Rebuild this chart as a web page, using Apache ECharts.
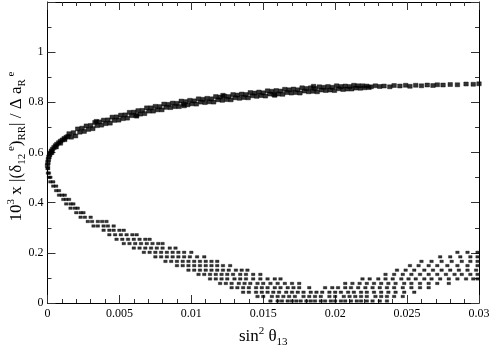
<!DOCTYPE html>
<html>
<head>
<meta charset="utf-8">
<script src="https://cdn.jsdelivr.net/npm/echarts@6/dist/echarts.min.js"></script>
<style>html,body{margin:0;padding:0;background:#fff;}#c{width:491px;height:345px;}</style>
</head>
<body>
<div id="c"></div>
<script>
// Lower band: points lie on discrete rows of y; each row lists its x values.
var lowerRowY = [0.008, 0.026, 0.043, 0.061, 0.078, 0.096, 0.114, 0.131, 0.149, 0.166, 0.184, 0.202, 0.219, 0.237, 0.254, 0.272, 0.290, 0.307, 0.325, 0.342, 0.360, 0.378, 0.395, 0.413, 0.430, 0.448, 0.466, 0.483, 0.501, 0.518, 0.536];
var lowerRowX = [
  [0.0155, 0.0160, 0.0163, 0.0167, 0.0170, 0.0173, 0.0176, 0.0180, 0.0183, 0.0186, 0.0190, 0.0193, 0.0197, 0.0200, 0.0204, 0.0207, 0.0211, 0.0215, 0.0218, 0.0222, 0.0226, 0.0231, 0.0236],
  [0.0146, 0.0150, 0.0156, 0.0160, 0.0164, 0.0168, 0.0172, 0.0178, 0.0182, 0.0186, 0.0190, 0.0196, 0.0200, 0.0206, 0.0210, 0.0214, 0.0218, 0.0222, 0.0228, 0.0232, 0.0236, 0.0241, 0.0247],
  [0.0136, 0.0140, 0.0145, 0.0149, 0.0153, 0.0157, 0.0161, 0.0166, 0.0170, 0.0174, 0.0178, 0.0183, 0.0187, 0.0191, 0.0196, 0.0200, 0.0204, 0.0209, 0.0213, 0.0218, 0.0222, 0.0227, 0.0232, 0.0237, 0.0242, 0.0248, 0.0255],
  [0.0128, 0.0132, 0.0136, 0.0140, 0.0145, 0.0149, 0.0153, 0.0158, 0.0162, 0.0167, 0.0171, 0.0175, 0.0182, 0.0193, 0.0198, 0.0202, 0.0207, 0.0211, 0.0216, 0.0221, 0.0226, 0.0231, 0.0236, 0.0241, 0.0247, 0.0253, 0.0259, 0.0265],
  [0.0120, 0.0124, 0.0128, 0.0133, 0.0137, 0.0141, 0.0146, 0.0150, 0.0155, 0.0160, 0.0165, 0.0170, 0.0175, 0.0207, 0.0212, 0.0217, 0.0222, 0.0227, 0.0232, 0.0237, 0.0242, 0.0248, 0.0253, 0.0259, 0.0265, 0.0271, 0.0279],
  [0.0113, 0.0117, 0.0121, 0.0125, 0.0130, 0.0134, 0.0138, 0.0143, 0.0148, 0.0153, 0.0158, 0.0162, 0.0219, 0.0224, 0.0230, 0.0235, 0.0240, 0.0246, 0.0251, 0.0256, 0.0262, 0.0267, 0.0273, 0.0279, 0.0285, 0.0291, 0.0296, 0.0299],
  [0.0105, 0.0109, 0.0113, 0.0117, 0.0121, 0.0125, 0.0129, 0.0134, 0.0138, 0.0143, 0.0148, 0.0235, 0.0241, 0.0247, 0.0253, 0.0259, 0.0265, 0.0271, 0.0277, 0.0283, 0.0288, 0.0294, 0.0299],
  [0.0098, 0.0102, 0.0106, 0.0110, 0.0114, 0.0118, 0.0122, 0.0126, 0.0131, 0.0135, 0.0139, 0.0243, 0.0249, 0.0255, 0.0262, 0.0268, 0.0274, 0.0280, 0.0286, 0.0292, 0.0298],
  [0.0090, 0.0094, 0.0098, 0.0102, 0.0106, 0.0110, 0.0114, 0.0118, 0.0122, 0.0127, 0.0252, 0.0258, 0.0265, 0.0271, 0.0278, 0.0285, 0.0292, 0.0299],
  [0.0082, 0.0086, 0.0090, 0.0094, 0.0098, 0.0102, 0.0106, 0.0110, 0.0114, 0.0118, 0.0260, 0.0267, 0.0274, 0.0281, 0.0288, 0.0294, 0.0299],
  [0.0075, 0.0079, 0.0083, 0.0087, 0.0091, 0.0095, 0.0099, 0.0104, 0.0109, 0.0273, 0.0280, 0.0287, 0.0294, 0.0299],
  [0.0067, 0.0071, 0.0075, 0.0079, 0.0083, 0.0087, 0.0091, 0.0095, 0.0100, 0.0285, 0.0292, 0.0299],
  [0.0060, 0.0064, 0.0068, 0.0072, 0.0076, 0.0080, 0.0085, 0.0089],
  [0.0053, 0.0057, 0.0061, 0.0065, 0.0069, 0.0073, 0.0077, 0.0080],
  [0.0048, 0.0052, 0.0056, 0.0060, 0.0064, 0.0068, 0.0071],
  [0.0043, 0.0047, 0.0051, 0.0055, 0.0059, 0.0062],
  [0.0039, 0.0043, 0.0046, 0.0050, 0.0053],
  [0.0032, 0.0035, 0.0039, 0.0042, 0.0046],
  [0.0028, 0.0031, 0.0035, 0.0038, 0.0041],
  [0.0023, 0.0026, 0.0030],
  [0.0020, 0.0023, 0.0025],
  [0.0016, 0.0019, 0.0021],
  [0.0013, 0.0016, 0.0018],
  [0.0011, 0.0013, 0.0015],
  [0.0008, 0.0010, 0.0012],
  [0.0006, 0.0008],
  [0.0004, 0.0006],
  [0.0002, 0.0004],
  [0.0001, 0.0002],
  [0.00003, 0.0001],
  [0.0, 0.00005]
];

// Upper branch: [x, y] points read along the thick upper band.
var upperPoints = [
  [0.0000, 0.548], [0.00003, 0.560], [0.00006, 0.572], [0.0001, 0.582], [0.00015, 0.591], [0.0002, 0.598],
  [0.00027, 0.606], [0.00035, 0.613], [0.00045, 0.620], [0.00055, 0.627], [0.00065, 0.633], [0.00078, 0.639],
  [0.0009, 0.645], [0.00103, 0.650], [0.00116, 0.656], [0.0013, 0.661], [0.00142, 0.664],
  [0.0003, 0.600], [0.0006, 0.622], [0.0009, 0.637], [0.0012, 0.651],
  [0.0015, 0.675], [0.00165, 0.661], [0.0018, 0.679], [0.00195, 0.666], [0.0021, 0.694], [0.00225, 0.681],
  [0.0024, 0.697], [0.00255, 0.684], [0.0027, 0.706], [0.00285, 0.692], [0.0030, 0.708], [0.00315, 0.695],
  [0.0033, 0.720], [0.00345, 0.707], [0.0036, 0.722], [0.00375, 0.709], [0.0039, 0.729], [0.00405, 0.715],
  [0.0042, 0.730], [0.00435, 0.717], [0.0045, 0.741], [0.00465, 0.728], [0.0048, 0.742], [0.00495, 0.729],
  [0.0051, 0.749], [0.00525, 0.735], [0.0054, 0.750], [0.00555, 0.737], [0.0057, 0.760], [0.00585, 0.747],
  [0.0060, 0.761], [0.00615, 0.748], [0.0063, 0.767], [0.00645, 0.753], [0.0066, 0.768], [0.00675, 0.755],
  [0.0069, 0.778], [0.00705, 0.765], [0.0072, 0.778], [0.00735, 0.765], [0.0075, 0.784], [0.00765, 0.770],
  [0.0078, 0.783], [0.00795, 0.770], [0.0081, 0.793], [0.00825, 0.780], [0.0084, 0.792], [0.00855, 0.779],
  [0.0087, 0.797], [0.00885, 0.783], [0.0090, 0.796], [0.00915, 0.783], [0.0093, 0.805], [0.00945, 0.792],
  [0.0096, 0.803], [0.00975, 0.790], [0.0099, 0.808], [0.01005, 0.794], [0.0102, 0.806], [0.01035, 0.793],
  [0.0105, 0.814], [0.01065, 0.801], [0.0108, 0.812], [0.01095, 0.799], [0.0111, 0.816], [0.01125, 0.802],
  [0.0114, 0.814], [0.01155, 0.801], [0.0117, 0.823], [0.01185, 0.810], [0.0120, 0.821], [0.01215, 0.808],
  [0.0123, 0.825], [0.01245, 0.811], [0.0126, 0.823], [0.01275, 0.810], [0.0129, 0.831], [0.01305, 0.818],
  [0.0132, 0.829], [0.01335, 0.816], [0.0135, 0.833], [0.01365, 0.819], [0.0138, 0.831], [0.01395, 0.818],
  [0.0141, 0.839], [0.01425, 0.826], [0.0144, 0.837], [0.01455, 0.824], [0.0147, 0.841], [0.01485, 0.827],
  [0.0150, 0.838], [0.01515, 0.825], [0.0153, 0.846], [0.01545, 0.833], [0.0156, 0.844], [0.01575, 0.831],
  [0.0159, 0.847], [0.01605, 0.833], [0.0162, 0.845], [0.01635, 0.832], [0.0165, 0.852], [0.01665, 0.839],
  [0.0168, 0.850], [0.01695, 0.837], [0.0171, 0.853], [0.01725, 0.839], [0.0174, 0.850], [0.01755, 0.837],
  [0.0177, 0.858], [0.01785, 0.845], [0.0180, 0.855], [0.01815, 0.842], [0.0183, 0.858], [0.01845, 0.844],
  [0.0186, 0.855], [0.01875, 0.842], [0.0189, 0.862], [0.01905, 0.849], [0.0192, 0.860], [0.01935, 0.847],
  [0.0195, 0.863], [0.01965, 0.849], [0.0198, 0.860], [0.01995, 0.847], [0.0201, 0.866], [0.02025, 0.854],
  [0.0204, 0.863], [0.02055, 0.851], [0.0207, 0.865], [0.02085, 0.853], [0.0210, 0.863], [0.02115, 0.853],
  [0.0213, 0.868], [0.02145, 0.857], [0.0216, 0.866], [0.02175, 0.856], [0.0219, 0.866], [0.02205, 0.858],
  [0.0222, 0.865], [0.02235, 0.859],
  [0.0034, 0.724], [0.0062, 0.745], [0.0095, 0.786], [0.0122, 0.828], [0.0158, 0.828], [0.0185, 0.864],
  [0.0225, 0.862], [0.0228, 0.866], [0.0231, 0.863], [0.0234, 0.865], [0.0238, 0.862], [0.0241, 0.867],
  [0.0245, 0.865], [0.0249, 0.868], [0.0252, 0.864], [0.0256, 0.868], [0.0260, 0.866], [0.0264, 0.869],
  [0.0268, 0.867], [0.0271, 0.870], [0.0275, 0.869], [0.0280, 0.871], [0.0285, 0.870], [0.0291, 0.873],
  [0.0296, 0.872], [0.0300, 0.874]
];

var xTickValues = [0, 0.005, 0.01, 0.015, 0.02, 0.025, 0.03];
var xTickLabels = ['0', '0.005', '0.01', '0.015', '0.02', '0.025', '0.03'];
var yTickValues = [0, 0.2, 0.4, 0.6, 0.8, 1.0, 1.2];
var yTickLabels = ['0', '0.2', '0.4', '0.6', '0.8', '1', ''];

var lowerPoints = [];
for (var i = 0; i < lowerRowY.length; i++) {
  for (var j = 0; j < lowerRowX[i].length; j++) lowerPoints.push([lowerRowX[i][j], lowerRowY[i]]);
}

function labelFor(vals, labels) {
  return function (v) {
    for (var i = 0; i < vals.length; i++) if (Math.abs(v - vals[i]) < 1e-9) return labels[i];
    return '';
  };
}

var FONT = 'Liberation Serif';
var lineCol = '#000';
var tickStyle = { color: '#333', width: 1 };
var richStyles = {
  a: { fontFamily: FONT, fontSize: 17, color: '#000', lineHeight: 22, verticalAlign: 'middle' },
  sup: { fontFamily: FONT, fontSize: 11, color: '#000', lineHeight: 11, verticalAlign: 'top' },
  sub: { fontFamily: FONT, fontSize: 11, color: '#000', lineHeight: 11, verticalAlign: 'bottom' }
};

function xAxisCfg(main) {
  return {
    type: 'value', min: 0, max: 0.03, interval: 0.005,
    position: main ? 'bottom' : 'top',
    axisLine: { show: true, onZero: false, lineStyle: { color: lineCol, width: 1 } },
    axisTick: { show: true, inside: true, length: 8, lineStyle: tickStyle },
    minorTick: { show: true, splitNumber: 5, length: 4, lineStyle: tickStyle },
    splitLine: { show: false }, minorSplitLine: { show: false },
    axisLabel: { show: main, margin: 5, color: '#000', fontFamily: FONT, fontSize: 12, formatter: labelFor(xTickValues, xTickLabels) },
    name: main ? '{a|sin}{sup|2}{a| θ}{sub|13}' : '',
    nameLocation: 'middle', nameGap: 23, nameMoveOverlap: false,
    nameTextStyle: { rich: richStyles }
  };
}
function yAxisCfg(main) {
  return {
    type: 'value', min: 0, max: 1.2, interval: 0.2,
    position: main ? 'left' : 'right',
    axisLine: { show: true, onZero: false, lineStyle: { color: lineCol, width: 1 } },
    axisTick: { show: true, inside: true, length: 8, lineStyle: tickStyle },
    minorTick: { show: true, splitNumber: 2, length: 4, lineStyle: tickStyle },
    splitLine: { show: false }, minorSplitLine: { show: false },
    axisLabel: { show: main, margin: 4, color: '#000', fontFamily: FONT, fontSize: 12, formatter: labelFor(yTickValues, yTickLabels) },
    name: main ? '{a|10}{sup|3}{a| x |(δ}{sub|12}{sup| e}{a|)}{sub|RR}{a|| / Δ a}{sub|R}{sup| e}' : '',
    nameLocation: 'middle', nameGap: 20, nameMoveOverlap: false,
    nameTextStyle: { padding: [0, 0, 0, 12], rich: richStyles }
  };
}

var chart = echarts.init(document.getElementById('c'), null, { renderer: 'canvas' });
chart.setOption({
  animation: false,
  backgroundColor: '#fff',
  grid: { left: 47.5, right: 12, top: 2, bottom: 42, containLabel: false, outerBoundsMode: 'none' },
  xAxis: [xAxisCfg(true), xAxisCfg(false)],
  yAxis: [yAxisCfg(true), yAxisCfg(false)],
  series: [{
    type: 'scatter', xAxisIndex: 0, yAxisIndex: 0,
    symbol: 'rect', symbolSize: [3.5, 2.5],
    itemStyle: { color: '#000', borderColor: '#000', borderWidth: 0.4 },
    silent: true,
    data: lowerPoints
  }, {
    type: 'scatter', xAxisIndex: 0, yAxisIndex: 0,
    symbol: 'rect', symbolSize: [4.5, 4],
    itemStyle: { color: '#000', borderColor: '#000', borderWidth: 0.5 },
    silent: true,
    data: upperPoints
  }]
});
</script>
</body>
</html>
